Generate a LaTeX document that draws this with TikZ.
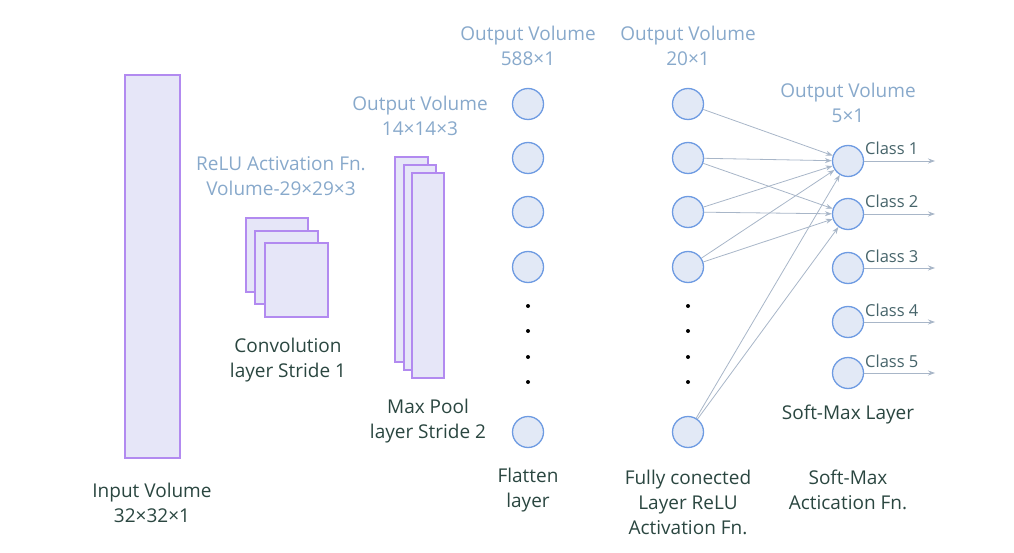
\documentclass[tikz,border=0pt]{standalone}
\usepackage{fontspec}
\setmainfont{Open Sans}
\usetikzlibrary{arrows.meta}
\definecolor{rectfill}{HTML}{E6E6F8}
\definecolor{rectline}{HTML}{B28AF0}
\definecolor{circfill}{HTML}{E2E9F6}
\definecolor{circline}{HTML}{6E9BE2}
\definecolor{bluetxt}{HTML}{88A9CB}
\definecolor{darktxt}{HTML}{2A4640}
\definecolor{arrowc}{HTML}{A8B6C8}
\begin{document}
\begin{tikzpicture}[x=1pt,y=-1pt,
  vol/.style={draw=rectline,fill=rectfill,line width=1.8pt},
  neuron/.style={circle,draw=circline,fill=circfill,line width=1.3pt,minimum size=31pt,inner sep=0pt},
  bluelab/.style={text=bluetxt,font=\fontsize{19}{25}\selectfont,align=center},
  darklab/.style={text=darktxt,font=\fontsize{19}{25}\selectfont,align=center},
  classlab/.style={text=darktxt!70!bluetxt,font=\fontsize{16.5}{18}\selectfont,anchor=base west,inner sep=0pt},
  conn/.style={draw=arrowc,line width=0.8pt,-{Stealth[length=7pt,width=5pt]}},
  dot/.style={circle,fill=black,inner sep=0pt,minimum size=4pt}]
\useasboundingbox (0,0) rectangle (1014,553);
% input volume
\draw[vol] (125,75) rectangle (180,458);
% convolution volumes
\draw[vol] (246,218) rectangle (308,292);
\draw[vol] (255,231) rectangle (318,304);
\draw[vol] (265,243) rectangle (328,317);
% max pool volumes
\draw[vol] (395,157) rectangle (428,362);
\draw[vol] (404,165) rectangle (436,370);
\draw[vol] (412,173) rectangle (444,378);
% flatten layer
\node[neuron] (f1) at (528,104) {};
\node[neuron] (f2) at (528,158) {};
\node[neuron] (f3) at (528,212) {};
\node[neuron] (f4) at (528,267) {};
\node[neuron] (f5) at (528,432) {};
\foreach \y [count=\i] in {306,331,357,382} \node[dot] (fd\i) at (528,\y) {};
% fully connected
\node[neuron] (h1) at (688,104) {};
\node[neuron] (h2) at (688,158) {};
\node[neuron] (h3) at (688,212) {};
\node[neuron] (h4) at (688,267) {};
\node[neuron] (h5) at (688,432) {};
\foreach \y [count=\i] in {306,331,357,382} \node[dot] (hd\i) at (688,\y) {};
% softmax
\node[neuron] (s1) at (848,161) {};
\node[neuron] (s2) at (848,214) {};
\node[neuron] (s3) at (848,268) {};
\node[neuron] (s4) at (848,322) {};
\node[neuron] (s5) at (848,373) {};
% connections
\foreach \a in {h1,h2,h3,h4,h5} \draw[conn] (\a) -- (s1);
\foreach \a in {h2,h3,h4,h5} \draw[conn] (\a) -- (s2);
% outputs
\foreach \i/\y in {1/161,2/214,3/268,4/322,5/373} {
  \coordinate (o\i) at (935,\y);
  \draw[conn] (s\i.east) -- (o\i);
  \node[classlab] (c\i) at (865,\y-6) {Class \i};
}
% labels
\node[bluelab] (t1) at (528,46) {Output Volume\\588×1};
\node[bluelab] (t2) at (688,46) {Output Volume\\20×1};
\node[bluelab] (t3) at (848,103) {Output Volume\\5×1};
\node[bluelab] (t4) at (420,116) {Output Volume\\14×14×3};
\node[bluelab] (t5) at (281,176) {ReLU Activation Fn.\\Volume-29×29×3};
\node[darklab] (l1) at (288,360) {Convolution\\layer Stride 1};
\node[darklab] (l2) at (428,421) {Max Pool\\layer Stride 2};
\node[darklab] (l3) at (152,503) {Input Volume\\32×32×1};
\node[darklab] (l4) at (528,490) {Flatten\\layer};
\node[darklab] (l5) at (688,502) {Fully conected\\Layer ReLU\\Activation Fn.};
\node[darklab] (l6) at (848,490) {Soft-Max\\Actication Fn.};
\node[darklab] (l7) at (848,415) {Soft-Max Layer};
\end{tikzpicture}
\end{document}
